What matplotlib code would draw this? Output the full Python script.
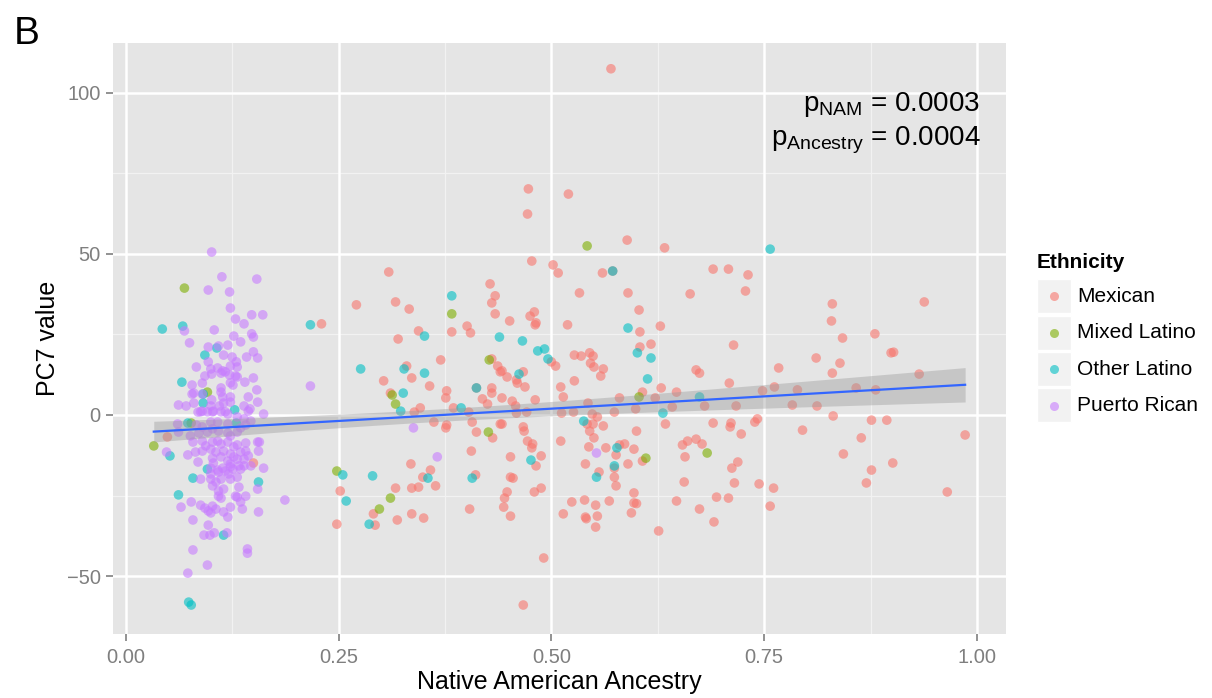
import numpy as np
import matplotlib
matplotlib.use("Agg")
import matplotlib.pyplot as plt
from matplotlib.patches import Rectangle
from matplotlib.lines import Line2D

plt.rcParams["font.family"] = ["Liberation Sans", "DejaVu Sans"]
plt.rcParams["mathtext.fontset"] = "custom"
plt.rcParams["mathtext.rm"] = "Liberation Sans"

# ---- data (x = Native American ancestry, y = PC7) ----
mexican = [
    (0.309, 44.4), (0.271, 34.2), (0.230, 28.3), (0.317, 35.1), (0.333, 32.9), (0.383, 25.8),
    (0.344, 26.1), (0.320, 23.6), (0.428, 40.7), (0.434, 37.0), (0.430, 34.8), (0.434, 31.4),
    (0.401, 27.6), (0.405, 25.5), (0.451, 29.2), (0.370, 17.1), (0.430, 17.4), (0.437, 15.2),
    (0.440, 13.4), (0.448, 11.8), (0.330, 15.2), (0.336, 11.5), (0.303, 10.6), (0.357, 9.0),
    (0.311, 6.8), (0.377, 7.5), (0.376, 5.3), (0.412, 8.4), (0.430, 8.4), (0.430, 6.8),
    (0.419, 5.0), (0.425, 3.4), (0.442, 5.3), (0.339, 0.9), (0.346, 2.2), (0.385, 2.2),
    (0.403, 0.9),
    (0.362, -2.2), (0.377, -3.1), (0.376, -4.0), (0.407, -2.2), (0.412, -5.3), (0.431, -7.1),
    (0.440, -2.8), (0.406, -11.2), (0.335, -15.2), (0.358, -17.1), (0.349, -19.3), (0.364, -22.0),
    (0.336, -22.7), (0.344, -22.4), (0.317, -22.7), (0.411, -18.6), (0.252, -23.6), (0.291, -30.7),
    (0.293, -34.2), (0.248, -33.9), (0.319, -32.6), (0.336, -30.7), (0.350, -32.0), (0.404, -29.2),
    (0.445, -25.8), (0.448, -23.9), (0.444, -28.6), (0.452, -13.0), (0.452, -19.3), (0.452, -31.4),
    (0.570, 107.5), (0.473, 70.2), (0.520, 68.6), (0.472, 62.4), (0.589, 54.3), (0.633, 51.9),
    (0.477, 47.8), (0.502, 46.6), (0.508, 44.1), (0.560, 44.1), (0.572, 44.7), (0.533, 37.9),
    (0.590, 37.9), (0.690, 45.3), (0.708, 45.3), (0.731, 43.5), (0.663, 37.6), (0.728, 38.5),
    (0.603, 32.6), (0.475, 30.7), (0.480, 32.0), (0.481, 28.0), (0.482, 28.6), (0.519, 28.0),
    (0.604, 25.8), (0.628, 27.6), (0.714, 21.7), (0.500, 16.5), (0.505, 15.2), (0.604, 21.1),
    (0.617, 22.0), (0.527, 18.6), (0.535, 18.3), (0.545, 19.3), (0.549, 18.3), (0.546, 16.1),
    (0.550, 14.9), (0.561, 14.3), (0.558, 12.1), (0.527, 10.6), (0.511, 8.7), (0.514, 5.6),
    (0.670, 14.0), (0.674, 13.0), (0.709, 9.9), (0.629, 8.4), (0.647, 7.1), (0.607, 7.1),
    (0.622, 5.3), (0.580, 5.3), (0.543, 3.7), (0.481, 4.7), (0.467, 13.4), (0.442, 13.7),
    (0.459, 10.9), (0.460, 9.9), (0.469, 8.7), (0.454, 4.3), (0.458, 2.8), (0.471, 0.9),
    (0.599, 1.9), (0.642, 2.5), (0.680, 2.8), (0.717, 2.8), (0.574, 0.9), (0.526, 0.9),
    (0.459, 0.6), (0.512, 0.6), (0.548, 0.3), (0.442, -2.8), (0.467, -3.7), (0.468, -5.0),
    (0.542, -2.8), (0.549, -2.8), (0.554, -0.6), (0.561, -3.4), (0.545, -5.0), (0.550, -7.1),
    (0.511, -8.1), (0.600, -5.0), (0.634, -2.8), (0.690, -2.5), (0.711, -2.5), (0.710, -3.7),
    (0.723, -5.9), (0.472, -8.1), (0.478, -9.0), (0.477, -10.2), (0.488, -12.7), (0.482, -15.8),
    (0.455, -19.6), (0.480, -23.9), (0.488, -22.7), (0.491, -44.4), (0.467, -59.0), (0.544, -9.9),
    (0.564, -10.2), (0.580, -9.3), (0.586, -9.0), (0.576, -12.4), (0.597, -10.6), (0.607, -14.3),
    (0.590, -15.2), (0.574, -16.5), (0.540, -15.2), (0.556, -17.7), (0.574, -19.3), (0.576, -22.0),
    (0.597, -24.2), (0.597, -27.3), (0.600, -27.5), (0.594, -30.4), (0.568, -26.7), (0.552, -28.0),
    (0.539, -26.4), (0.524, -27.0), (0.514, -30.7), (0.540, -31.7), (0.541, -32.2), (0.554, -31.4),
    (0.552, -34.8), (0.626, -36.0), (0.654, -9.3), (0.660, -8.1), (0.670, -7.5), (0.677, -9.0),
    (0.657, -13.0), (0.719, -14.6), (0.712, -16.5), (0.715, -21.1), (0.656, -20.8), (0.647, -26.7),
    (0.674, -29.2), (0.694, -25.5), (0.708, -25.8), (0.691, -33.2),
    (0.830, 34.5), (0.938, 35.1), (0.829, 29.2), (0.842, 23.9), (0.880, 25.2), (0.811, 17.7),
    (0.899, 19.3), (0.902, 19.5), (0.767, 14.6), (0.839, 16.1), (0.830, 13.0), (0.932, 12.7),
    (0.748, 7.5), (0.762, 8.7), (0.789, 7.8), (0.858, 8.4), (0.881, 7.8), (0.783, 3.1),
    (0.812, 2.8), (0.742, -1.2), (0.739, -2.2), (0.831, -0.3), (0.876, -1.6), (0.894, -1.6),
    (0.795, -4.7), (0.864, -7.1), (0.986, -6.2), (0.843, -12.1), (0.901, -14.9), (0.876, -17.1),
    (0.870, -21.1), (0.744, -21.4), (0.761, -22.7), (0.757, -28.3), (0.965, -23.9),
    (0.049, -6.8), (0.150, -14.9),
]

mixed_latino = [
    (0.069, 39.4), (0.383, 31.4), (0.427, 17.1), (0.313, 6.2), (0.317, 3.4), (0.426, -5.3),
    (0.248, -17.4), (0.311, -25.8), (0.298, -29.2), (0.542, 52.5), (0.603, 5.6), (0.611, -13.4),
    (0.683, -11.8), (0.096, 7.1), (0.077, -2.5), (0.033, -9.6),
]

other_latino = [
    (0.217, 28.0), (0.383, 37.0), (0.351, 24.5), (0.439, 24.2), (0.276, 14.3), (0.327, 14.3),
    (0.351, 13.0), (0.326, 6.8), (0.412, 8.4), (0.323, 1.2), (0.394, 2.2), (0.355, -19.6),
    (0.407, -19.6), (0.255, -18.6), (0.290, -18.9), (0.259, -26.7), (0.286, -33.9), (0.572, 44.7),
    (0.590, 27.0), (0.466, 23.0), (0.484, 19.9), (0.492, 20.5), (0.496, 17.4), (0.601, 19.3),
    (0.617, 17.7), (0.613, 11.2), (0.674, 5.6), (0.462, 12.7), (0.631, 0.6), (0.538, -1.9),
    (0.476, -14.0), (0.577, -10.2), (0.574, -15.8), (0.553, -19.3), (0.757, 51.5), (0.043, 26.7),
    (0.067, 27.6), (0.107, 20.8), (0.093, 18.6), (0.066, 10.2), (0.091, 6.5), (0.091, 3.7),
    (0.128, 1.6), (0.073, -2.5), (0.130, -2.5), (0.052, -12.7), (0.096, -16.8), (0.079, -19.6),
    (0.156, -20.8), (0.062, -24.8), (0.115, -37.3), (0.074, -58.1), (0.077, -59.0),
]

puerto_rican = [
    (0.217, 9.0), (0.338, -4.0), (0.366, -13.0), (0.187, -26.4), (0.553, -11.8),
    (0.101, 50.6), (0.113, 42.9), (0.154, 42.2), (0.097, 38.8), (0.122, 38.2), (0.123, 33.2),
    (0.129, 29.8), (0.148, 31.1), (0.161, 31.1), (0.139, 28.3), (0.069, 26.1), (0.104, 26.4),
    (0.148, 25.2), (0.150, 24.2), (0.127, 24.5), (0.135, 22.7), (0.120, 21.7), (0.075, 22.4),
    (0.097, 21.1), (0.109, 21.4), (0.115, 18.6), (0.125, 18.0), (0.142, 18.0), (0.150, 19.6),
    (0.155, 17.7), (0.083, 14.9), (0.097, 16.5), (0.100, 14.3), (0.108, 14.6), (0.114, 13.7),
    (0.123, 15.2), (0.130, 16.5), (0.131, 14.9), (0.101, 12.7), (0.112, 13.0), (0.117, 13.4),
    (0.122, 12.4), (0.129, 12.1), (0.131, 11.8), (0.093, 12.1), (0.150, 11.5), (0.140, 10.2),
    (0.126, 9.3), (0.123, 10.0), (0.078, 9.3), (0.090, 9.9), (0.112, 8.4), (0.154, 7.8),
    (0.078, 6.5), (0.080, 6.8), (0.090, 6.5), (0.112, 7.1), (0.114, 5.6), (0.123, 5.6),
    (0.144, 5.6), (0.155, 4.0), (0.062, 3.1), (0.071, 2.8), (0.080, 3.7), (0.101, 4.7),
    (0.100, 2.8), (0.110, 2.8), (0.115, 3.7), (0.123, 4.0), (0.139, 2.8), (0.146, 1.9),
    (0.162, 0.3), (0.088, 1.0), (0.096, 1.0), (0.102, 1.0), (0.112, 1.0), (0.117, 1.0),
    (0.085, 0.9), (0.090, 1.2), (0.103, 1.2), (0.120, 0.3), (0.131, -0.6), (0.139, -1.2),
    (0.144, 1.2), (0.061, -2.8), (0.083, -3.1), (0.090, -3.7), (0.100, -2.2), (0.108, -2.2),
    (0.120, -2.8), (0.135, -4.0), (0.141, -3.1), (0.147, -1.9), (0.062, -5.3), (0.076, -6.5),
    (0.086, -5.6), (0.096, -5.3), (0.102, -4.3), (0.109, -5.0), (0.120, -5.6), (0.123, -6.5),
    (0.131, -5.3), (0.079, -8.4), (0.090, -8.1), (0.094, -9.6), (0.102, -8.4), (0.108, -8.1),
    (0.112, -9.0), (0.120, -8.4), (0.127, -9.9), (0.131, -9.3), (0.048, -11.5), (0.073, -12.4),
    (0.082, -11.5), (0.090, -11.2), (0.100, -10.6), (0.106, -11.5), (0.115, -11.2), (0.123, -12.1),
    (0.135, -11.5), (0.141, -8.7), (0.141, -11.2), (0.155, -8.4), (0.157, -8.4), (0.156, -11.2),
    (0.085, -14.6), (0.102, -13.4), (0.112, -13.0), (0.120, -14.3), (0.127, -13.0), (0.131, -13.7),
    (0.139, -13.7), (0.144, -12.7), (0.103, -14.9), (0.123, -15.2), (0.133, -15.8), (0.139, -15.8),
    (0.162, -16.5), (0.100, -16.5), (0.108, -17.1), (0.114, -16.5), (0.117, -17.4), (0.123, -16.1),
    (0.126, -16.8), (0.135, -16.8), (0.147, -15.8), (0.100, -18.3), (0.109, -17.7), (0.121, -18.3),
    (0.131, -19.3), (0.088, -19.9), (0.100, -19.9), (0.106, -20.8), (0.112, -19.9), (0.123, -19.9),
    (0.155, -23.0), (0.102, -22.0), (0.109, -23.6), (0.115, -23.0), (0.133, -22.4), (0.109, -25.2),
    (0.112, -25.8), (0.129, -25.2), (0.131, -25.5), (0.141, -25.2), (0.135, -27.0), (0.137, -29.2),
    (0.065, -28.6), (0.077, -27.0), (0.088, -28.0), (0.093, -28.9), (0.102, -28.3), (0.097, -29.8),
    (0.100, -30.4), (0.106, -29.2), (0.115, -30.1), (0.123, -28.6), (0.120, -31.7), (0.156, -30.1),
    (0.079, -32.6), (0.097, -34.2), (0.092, -37.3), (0.099, -37.3), (0.104, -36.6), (0.119, -36.6),
    (0.143, -41.6), (0.143, -42.9), (0.079, -41.9), (0.096, -46.6), (0.073, -49.1),
]

groups = ["Mexican", "Mixed Latino", "Other Latino", "Puerto Rican"]
group_data = [mexican, mixed_latino, other_latino, puerto_rican]
colors = ["#F8766D", "#7CAE00", "#00BFC4", "#C77CFF"]

x_ticks = [0.0, 0.25, 0.5, 0.75, 1.0]
x_tick_labels = ["0.00", "0.25", "0.50", "0.75", "1.00"]
y_ticks = [-50, 0, 50, 100]
y_tick_labels = ["\u221250", "0", "50", "100"]

# ---- figure ----
W, H = 1212.0, 698.0
fig = plt.figure(figsize=(W / 100, H / 100), dpi=100)
ax = fig.add_axes([113 / W, 1 - 634 / H, (1006 - 113) / W, (634 - 43) / H])
ax.set_facecolor("#E5E5E5")
ax.set_xlim(-0.0149, 1.034)
ax.set_ylim(-68.0, 115.5)

for v in [0.125, 0.375, 0.625, 0.875]:
    ax.axvline(v, color="#F2F2F2", lw=0.9, zorder=0)
for v in [-25, 25, 75]:
    ax.axhline(v, color="#F2F2F2", lw=0.9, zorder=0)
for v in x_ticks:
    ax.axvline(v, color="white", lw=1.8, zorder=0)
for v in y_ticks:
    ax.axhline(v, color="white", lw=1.8, zorder=0)

for name, pts, col in zip(groups, group_data, colors):
    arr = np.array(pts)
    ax.scatter(arr[:, 0], arr[:, 1], s=48, color=col, alpha=0.6, edgecolors="none", zorder=2)

# linear fit with 95% confidence band (like geom_smooth(method="lm"))
all_pts = np.vstack([np.array(p) for p in group_data])
xs, ys = all_pts[:, 0], all_pts[:, 1]
slope, intercept = np.polyfit(xs, ys, 1)
n = len(xs)
resid = ys - (slope * xs + intercept)
s_err = np.sqrt(np.sum(resid ** 2) / (n - 2))
xg = np.linspace(xs.min(), xs.max(), 100)
yg = slope * xg + intercept
se = s_err * np.sqrt(1.0 / n + (xg - xs.mean()) ** 2 / np.sum((xs - xs.mean()) ** 2))
ax.fill_between(xg, yg - 1.965 * se, yg + 1.965 * se, color="#999999", alpha=0.4, lw=0, zorder=3)
ax.plot(xg, yg, color="#3366FF", lw=1.6, zorder=4)

ax.set_xticks(x_ticks)
ax.set_xticklabels(x_tick_labels)
ax.set_yticks(y_ticks)
ax.set_yticklabels(y_tick_labels)
ax.tick_params(axis="both", colors="#7F7F7F", length=5, width=1.2, labelsize=14.5,
               labelcolor="#7F7F7F")
ax.tick_params(axis="x", pad=5)
ax.tick_params(axis="y", pad=4)
for sp in ax.spines.values():
    sp.set_visible(False)

ax.set_xlabel("Native American Ancestry", fontsize=18, labelpad=2)
ax.set_ylabel("PC7 value", fontsize=18, labelpad=5)

ax.text(1.004, 96.5, r"$\mathrm{p}_{\mathrm{NAM}}$ = 0.0003", fontsize=20, ha="right", va="center", zorder=5)
ax.text(1.004, 85.3, r"$\mathrm{p}_{\mathrm{Ancestry}}$ = 0.0004", fontsize=20, ha="right", va="center", zorder=5)

fig.text(14 / W, 1 - 34 / H, "B", fontsize=28, ha="left", va="center")

# legend built by hand to get the grey key boxes
fig.text(1037 / W, 1 - 262 / H, "Ethnicity", fontsize=15, fontweight="bold", ha="left", va="center")
for i, (name, col) in enumerate(zip(groups, colors)):
    yc = 296 + i * 36.5
    fig.add_artist(Rectangle((1037 / W, 1 - (yc + 17) / H), 34 / W, 34 / H,
                             transform=fig.transFigure, facecolor="#F2F2F2", edgecolor="white", lw=1))
    fig.add_artist(Line2D([1054 / W], [1 - yc / H], marker="o", markersize=6.5, color=col, alpha=0.6,
                          markeredgewidth=0, transform=fig.transFigure))
    fig.text(1077 / W, 1 - yc / H, name, fontsize=15, ha="left", va="center")

fig.savefig("out.png", dpi=100)
